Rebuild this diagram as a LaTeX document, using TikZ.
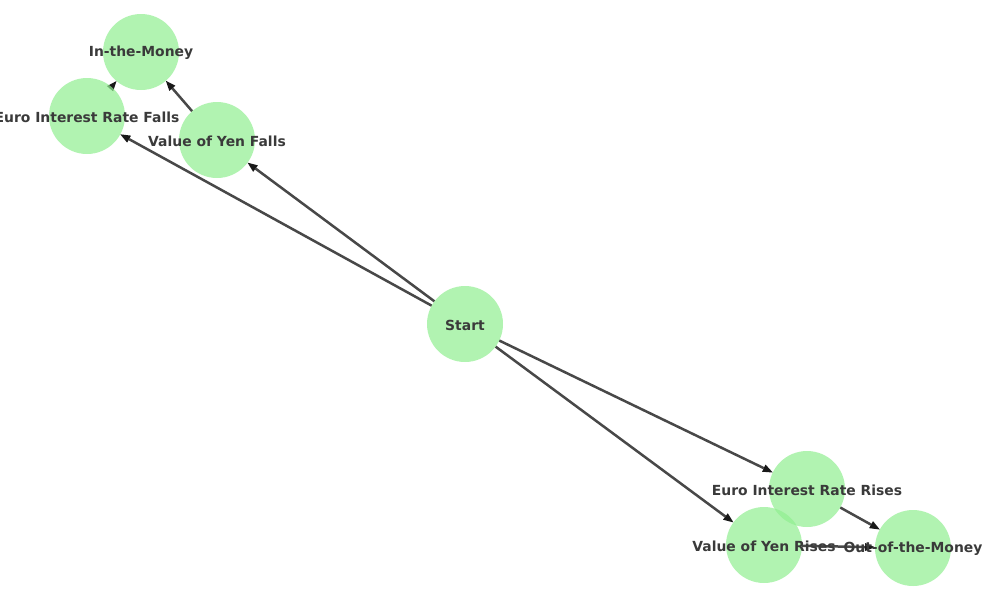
\documentclass[tikz,border=0pt]{standalone}
\usepackage{fontspec}
\setmainfont{DejaVu Sans}
\usetikzlibrary{arrows.meta,backgrounds}
\definecolor{nodegreen}{RGB}{144,238,144}
\definecolor{edgegray}{RGB}{72,72,72}
\definecolor{textgray}{RGB}{58,58,58}
\tikzset{
  state/.style={circle, minimum size=76pt, inner sep=0pt, outer sep=0pt,
    fill=nodegreen, fill opacity=0.7,
    label={[statetext]center:#1}},
  statetext/.style={text=textgray, text opacity=1, fill opacity=1, inner sep=0pt,
    yshift=-1pt, font=\fontsize{13.9}{16}\selectfont\bfseries},
  conn/.style={edgegray, line width=2.5pt,
    -{Triangle[length=10pt,width=8pt,fill=black!90,color=black!90,line width=0pt]}}
}
\begin{document}
\begin{tikzpicture}[x=1pt,y=-1pt]
\useasboundingbox (0,0) rectangle (1000,600);
\node[state=In-the-Money] (itm)  at (141,52)  {};
\node[state=Euro Interest Rate Falls] (eirf) at (87,116)  {};
\node[state=Value of Yen Falls] (vyf)  at (217,140) {};
\node[state=Start] (start) at (465,324) {};
\node[state=Euro Interest Rate Rises] (eirr) at (807,489) {};
\node[state=Value of Yen Rises] (vyr)  at (764,545) {};
\node[state=Out-of-the-Money] (otm)  at (913,548) {};
\begin{scope}[on background layer]
\draw[conn] (start) -- (eirf);
\draw[conn] (start) -- (vyf);
\draw[conn] (vyf) -- (itm);
\draw[conn] (eirf) -- (itm);
\draw[conn] (start) -- (eirr);
\draw[conn] (start) -- (vyr);
\draw[conn] (eirr) -- (otm);
\draw[conn] (vyr) -- (otm);
\end{scope}
\end{tikzpicture}
\end{document}
